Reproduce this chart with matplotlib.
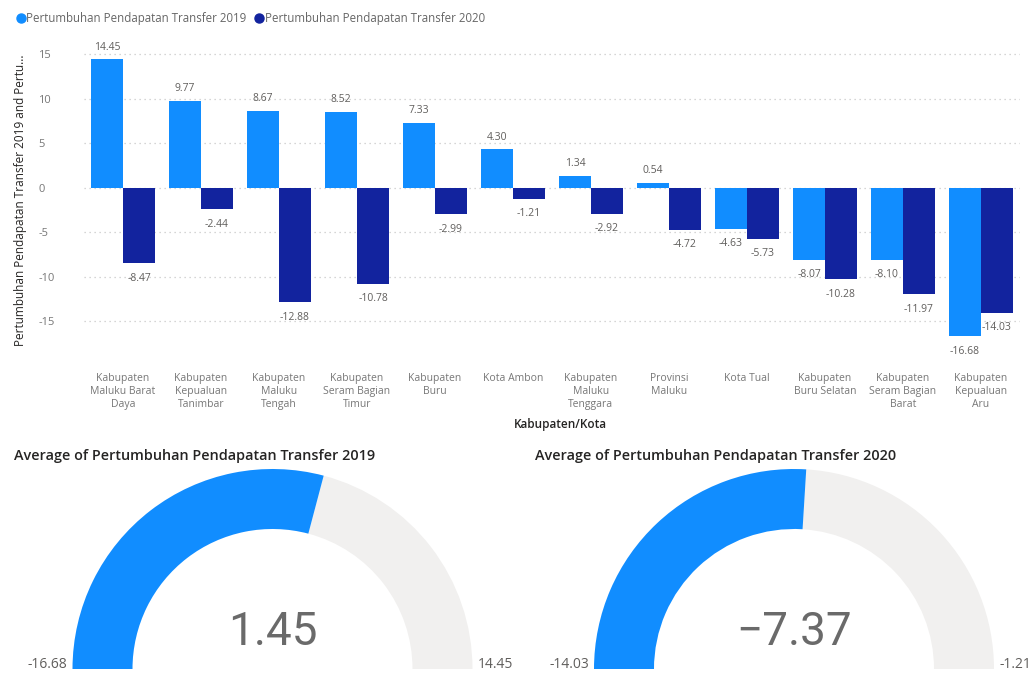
import matplotlib
matplotlib.use("Agg")
import matplotlib.pyplot as plt
from matplotlib.patches import Wedge
from matplotlib.lines import Line2D
import numpy as np

plt.rcParams['font.family'] = ['Open Sans', 'DejaVu Sans']

categories = [
    "Kabupaten\nMaluku Barat\nDaya",
    "Kabupaten\nKepualuan\nTanimbar",
    "Kabupaten\nMaluku\nTengah",
    "Kabupaten\nSeram Bagian\nTimur",
    "Kabupaten\nBuru",
    "Kota Ambon",
    "Kabupaten\nMaluku\nTenggara",
    "Provinsi\nMaluku",
    "Kota Tual",
    "Kabupaten\nBuru Selatan",
    "Kabupaten\nSeram Bagian\nBarat",
    "Kabupaten\nKepualuan\nAru",
]
growth_2019 = [14.45, 9.77, 8.67, 8.52, 7.33, 4.30, 1.34, 0.54, -4.63, -8.07, -8.10, -16.68]
growth_2020 = [-8.47, -2.44, -12.88, -10.78, -2.99, -1.21, -2.92, -4.72, -5.73, -10.28, -11.97, -14.03]
series_names = ["Pertumbuhan Pendapatan Transfer 2019", "Pertumbuhan Pendapatan Transfer 2020"]
y_ticks = [-15, -10, -5, 0, 5, 10, 15]

gauge_titles = ["Average of Pertumbuhan Pendapatan Transfer 2019",
                "Average of Pertumbuhan Pendapatan Transfer 2020"]
gauge_values = [1.45, -7.37]
gauge_mins = [-16.68, -14.03]
gauge_maxs = [14.45, -1.21]
gauge_value_labels = ["1.45", "\u22127.37"]

C1 = "#118DFF"
C2 = "#12239E"
GRAY_ARC = "#F1F0EF"
TXT = "#605E5C"
DARK = "#252423"

W, H = 1034, 673
fig = plt.figure(figsize=(W / 100, H / 100), dpi=100)
fig.patch.set_facecolor("white")

def px_axes(x0, y0, x1, y1):
    return fig.add_axes([x0 / W, 1 - y1 / H, (x1 - x0) / W, (y1 - y0) / H])

# ---------------- bar chart ----------------
ax = px_axes(84, 40, 1020, 348)
x = np.arange(len(categories))
bw = 0.41
b1 = ax.bar(x - bw / 2, growth_2019, bw, color=C1, zorder=3)
b2 = ax.bar(x + bw / 2, growth_2020, bw, color=C2, zorder=3)
ax.set_xlim(-0.5, len(categories) - 0.5)
ax.set_ylim(-18, 16.6)
ax.set_yticks(y_ticks)
ax.set_yticklabels([str(t) for t in y_ticks])
ax.yaxis.grid(True, linestyle=(0, (1, 3)), color="#C8C8C8", linewidth=0.9, zorder=0)
for s in ax.spines.values():
    s.set_visible(False)
ax.tick_params(axis="y", length=0, pad=33, labelsize=8, labelcolor="#777777")
ax.tick_params(axis="x", length=0, pad=18, labelsize=7.5, labelcolor="#777777")
ax.set_xticks(x)
ax.set_xticklabels(categories, linespacing=1.25, va="top")
for t in ax.get_yticklabels():
    t.set_horizontalalignment("left")

for bars, vals in ((b1, growth_2019), (b2, growth_2020)):
    for rect, v in zip(bars, vals):
        cx = rect.get_x() + rect.get_width() / 2
        off = 12 if v >= 0 else -15
        ax.annotate(f"{v:.2f}", (cx, v), xytext=(0, off), textcoords="offset pixels",
                    ha="center", va="center", fontsize=7.5, color=TXT, zorder=4)

ax.set_ylabel("Pertumbuhan Pendapatan Transfer 2019 and Pertu...", fontsize=8.5,
              color=DARK)
ax.yaxis.set_label_coords(-(84 - 27) / 936, 1 - (200 - 40) / 308)
ax.set_xlabel("Kabupaten/Kota", fontsize=8.5, color=DARK, weight="semibold")
ax.xaxis.set_label_coords((560 - 84) / 936, -(418 - 348) / 308)

handles = [Line2D([], [], marker="o", linestyle="", markersize=6.5, color=c) for c in (C1, C2)]
fig.legend(handles, series_names, loc="upper left", bbox_to_anchor=(9 / W, 1 - 7 / H),
           ncol=2, frameon=False, fontsize=8.3, labelcolor="#666666",
           handletextpad=-0.1, columnspacing=0.5, handlelength=1.2, borderaxespad=0)

# ---------------- gauges ----------------
centers = [272.5, 794]
title_x = [14, 535]
for i in range(2):
    cx = centers[i]
    gx = px_axes(cx - 215, 463, cx + 215, 673)
    gx.set_xlim(-215, 215)
    gx.set_ylim(-4, 206)
    gx.axis("off")
    frac = (gauge_values[i] - gauge_mins[i]) / (gauge_maxs[i] - gauge_mins[i])
    theta = 180 - 180 * frac
    gx.add_patch(Wedge((0, 0), 200, 0, theta, width=60, facecolor=GRAY_ARC, edgecolor="none"))
    gx.add_patch(Wedge((0, 0), 200, theta, 180, width=60, facecolor=C1, edgecolor="none"))
    gx.text(0, 24, gauge_value_labels[i], ha="center", va="baseline", fontsize=33,
            color="#6A6A6A", family=["Roboto"], fontweight="normal")
    gx.text(-205, 1, f"{gauge_mins[i]:.2f}", ha="right", va="baseline", fontsize=10,
            color=TXT, clip_on=False)
    gx.text(205, 1, f"{gauge_maxs[i]:.2f}", ha="left", va="baseline", fontsize=10,
            color=TXT, clip_on=False)
    fig.text(title_x[i] / W, 1 - 456 / H, gauge_titles[i], ha="left", va="center",
             fontsize=10.4, color=DARK, weight="semibold")

fig.savefig("out.png", dpi=100, facecolor="white")
